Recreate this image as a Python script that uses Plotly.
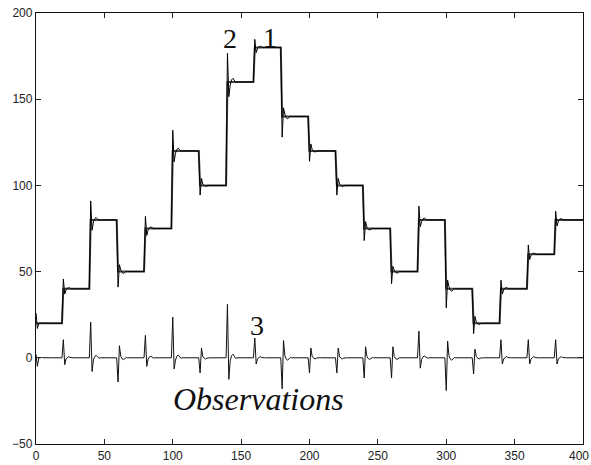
import numpy as np
import plotly.graph_objects as go

# ---- data ----
change_points = [0, 20, 40, 60, 80, 100, 120, 140, 160, 180, 200, 220, 240, 260, 280, 300, 320, 340, 360, 380]
levels = [20, 40, 80, 50, 75, 120, 100, 160, 180, 140, 120, 100, 75, 50, 80, 40, 20, 40, 60, 80]

# series 2 (estimate): first and second sample after each change
est_first = [26, 45.7, 91, 41, 82, 132, 94.4, 176.6, 184.7, 128, 114, 94.4, 68, 43, 88, 29, 14, 45, 65.5, 85]
est_second = [17, 37, 74, 54, 71, 113.7, 104, 151.5, 177, 145, 124, 104, 79, 53, 76, 45, 24, 37, 57, 76.5]

# series 3 (observations): first and second spike values at each change
obs_first = [2, 10.5, 20.7, -14, 13, 23.6, -8.8, 31, 11.5, -18, -8.8, -8.8, -11.7, -11.7, 15.5, -19, -9.4, 10.5, 10.5, 10.5]
obs_second = [-5, -4, -8, 7, -5, -6.5, 5.7, -12.5, -3.6, 10, 5.7, 5.7, 6.4, 6.4, -6, 9.7, 5, -3.6, -3.6, -3.6]

# small ringing after the spikes, as a fraction of the step size
tail_shape = [-0.03, 0.02, 0.035, 0.01, -0.005, 0.0]

x_ticks = [0, 50, 100, 150, 200, 250, 300, 350, 400]
y_ticks = [-50, 0, 50, 100, 150, 200]

t_end = 400

# ---- build sampled series ----
t = np.arange(0, t_end + 1)
s1 = np.zeros(len(t))
for i, cp in enumerate(change_points):
    s1[cp:] = levels[i]
s2 = s1.copy()
s3 = np.zeros(len(t))
for i, cp in enumerate(change_points):
    prev = levels[i - 1] if i > 0 else 0
    step = levels[i] - prev if i > 0 else 5
    s2[cp] = est_first[i]
    s2[cp + 1] = est_second[i]
    s3[cp] = obs_first[i]
    s3[cp + 1] = obs_second[i]
    for j, f in enumerate(tail_shape):
        s2[cp + 2 + j] += f * step
        s3[cp + 2 + j] += f * step

fig = go.Figure()
fig.add_trace(go.Scatter(x=t, y=s1, mode="lines", line=dict(color="#444444", width=2)))
fig.add_trace(go.Scatter(x=t, y=s2, mode="lines", line=dict(color="#000000", width=1)))
fig.add_trace(go.Scatter(x=t, y=s3, mode="lines", line=dict(color="#111111", width=1)))

serif = "Liberation Serif, DejaVu Serif, serif"
labels = [("2", 141.5, 185), ("1", 171, 186), ("3", 161.5, 19)]
for txt, xx, yy in labels:
    fig.add_annotation(x=xx, y=yy, text=txt, showarrow=False,
                       font=dict(family=serif, size=28, color="#111"))
fig.add_annotation(x=162.5, y=-24, text="<i>Observations</i>", showarrow=False,
                   font=dict(family=serif, size=32, color="#111"))

tick_font = dict(family="Liberation Sans, Arial, sans-serif", size=12, color="#222")
# last x tick label kept inside the page edge
fig.add_annotation(x=1.0, xref="paper", xanchor="right", xshift=8,
                   y=0, yref="paper", yanchor="top", yshift=-3,
                   text=str(x_ticks[-1]), showarrow=False, font=tick_font)

axis_common = dict(showline=True, mirror="ticks", linecolor="#111", linewidth=1.3,
                   ticks="inside", ticklen=5, tickcolor="#222", showgrid=False,
                   zeroline=False, automargin=False, tickfont=tick_font)
fig.update_xaxes(range=[0, 400.001], tickvals=x_ticks,
                 ticktext=[str(v) for v in x_ticks[:-1]] + [""], **axis_common)
fig.update_yaxes(range=[-50, 200.001], tickvals=y_ticks, **axis_common)

fig.update_layout(width=591, height=465, margin=dict(l=36, r=8, t=13, b=21),
                  plot_bgcolor="white", paper_bgcolor="white", showlegend=False)

fig.write_html("out.html")
